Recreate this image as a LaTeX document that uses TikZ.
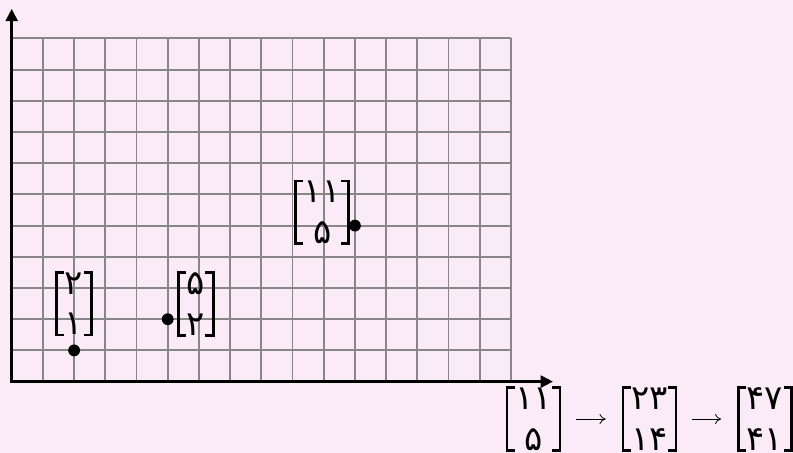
\documentclass[tikz,border=0pt]{standalone}
\usepackage{fontspec}
\usetikzlibrary{arrows.meta}
\newfontfamily\pfont{DejaVu Sans}
\definecolor{bgpink}{RGB}{251,235,246}
\definecolor{gridgray}{RGB}{135,135,135}

\begin{document}
\begin{tikzpicture}[
  gridline/.style={draw=gridgray,line width=1.7pt},
  axis/.style={line width=2.9pt,{Triangle[length=0.4cm,width=0.38cm]}-{Triangle[length=0.4cm,width=0.38cm]}},
  vec/.style={align=center,inner xsep=0.26cm,inner ysep=0pt,minimum height=1.99cm,
    font=\fontsize{31}{37}\selectfont\pfont},
  bracket/.style={line width=2.3pt},
  vecdot/.style={circle,fill=black,inner sep=0pt,minimum size=0.38cm},
  chainarrow/.style={-{To[length=0.2cm,width=0.32cm]},line width=0.7pt,shorten <=0.52cm,shorten >=0.55cm}]
\useasboundingbox (-0.375,-2.285) rectangle (25.04,12.23);
\fill[bgpink] (-0.375,-2.285) rectangle (25.04,12.23);

% grid and axes
\draw[gridline] (0,0) grid (16,11);
\coordinate (o) at (0,0);
\coordinate (xtip) at (17.35,0);
\coordinate (ytip) at (0,11.95);
\draw[axis] (xtip) -- (o) -- (ytip);

% points and their labels
\node[vecdot] (p1) at (2,1) {};
\node[vecdot] (p2) at (5,2) {};
\node[vecdot] (p3) at (11,5) {};
\node[vec] (v1) at (2,2.49) {۲\\۱};
\node[vec] (v2) at (5.9,2.49) {۵\\۲};
\node[vec] (v3) at (9.95,5.43) {۱۱\\۵};

% iteration chain
\node[vec] (m1) at (16.72,-1.2) {۱۱\\۵};
\node[vec] (m2) at (20.44,-1.2) {۲۳\\۱۴};
\node[vec] (m3) at (24.14,-1.2) {۴۷\\۴۱};
\draw[chainarrow] (m1) -- (m2);
\draw[chainarrow] (m2) -- (m3);

% brackets round every vector
\foreach \v in {v1,v2,v3,m1,m2,m3}
  \draw[bracket] ([xshift=0.25cm]\v.north west) -- (\v.north west) -- (\v.south west) -- ([xshift=0.25cm]\v.south west)
    ([xshift=-0.25cm]\v.north east) -- (\v.north east) -- (\v.south east) -- ([xshift=-0.25cm]\v.south east);
\end{tikzpicture}
\end{document}
